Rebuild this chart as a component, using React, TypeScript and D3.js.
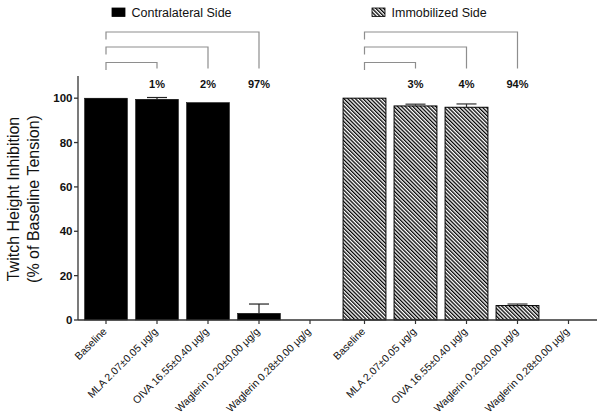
import React from "react";
import * as d3 from "d3";

const categories = [
  "Baseline",
  "MLA 2.07±0.05 μg/g",
  "OIVA 16.55±0.40 μg/g",
  "Waglerin 0.20±0.00 μg/g",
  "Waglerin 0.28±0.00 μg/g",
];
const contralateral = [100, 99.5, 98.0, 3.0, 0];
const contralateralErr = [0, 0.8, 0, 4.2, 0];
const immobilized = [100, 96.5, 95.9, 6.5, 0];
const immobilizedErr = [0, 0.8, 1.5, 0.7, 0];
const contralateralPct = ["", "1%", "2%", "97%", ""];
const immobilizedPct = ["", "3%", "4%", "94%", ""];
const yTicks = [0, 20, 40, 60, 80, 100];
const seriesNames = ["Contralateral Side", "Immobilized Side"];

const W = 603;
const H = 417;
const FONT = "Arial, 'Liberation Sans', Helvetica, sans-serif";
const AXIS = "#333";
const BRACKET = "#8e8e8e";

export default function App() {
  const y = d3.scaleLinear().domain([0, 110]).range([320, 76]);
  const xL = d3.scaleBand<string>().domain(categories).range([80.5, 335.5]).paddingInner(0.16).paddingOuter(0.08);
  const xR = d3.scaleBand<string>().domain(categories).range([339, 594]).paddingInner(0.16).paddingOuter(0.08);
  const groups = [
    { x: xL, vals: contralateral, errs: contralateralErr, pct: contralateralPct, fill: "#000", legendX: 112 },
    { x: xR, vals: immobilized, errs: immobilizedErr, pct: immobilizedPct, fill: "url(#hatch)", legendX: 372 },
  ];
  const bracketTops = [62.5, 47, 32];
  const bw = xL.bandwidth();

  return (
    <svg width={W} height={H} style={{ position: "absolute", left: 0, top: 0, background: "#fff" }} fontFamily={FONT}>
      <defs>
        <pattern id="hatch" patternUnits="userSpaceOnUse" width={2.7} height={2.7} patternTransform="rotate(-45)">
          <rect width={2.7} height={2.7} fill="#fff" />
          <line x1={0.65} y1={0} x2={0.65} y2={2.7} stroke="#000" strokeWidth={1.3} />
        </pattern>
      </defs>
      <rect width={W} height={H} fill="#fff" />

      {groups.map((g, gi) => (
        <g key={"leg" + gi}>
          <rect x={g.legendX} y={8} width={13} height={8.5} fill={g.fill} stroke="#000" strokeWidth={0.8} />
          <text x={g.legendX + 19.5} y={17} fontSize={12.5} fill="#111">{seriesNames[gi]}</text>
        </g>
      ))}

      {groups.map((g, gi) => {
        const c0 = (g.x(categories[0]) ?? 0) + bw / 2;
        return [1, 2, 3].map((k) => {
          const ck = (g.x(categories[k]) ?? 0) + bw / 2;
          const top = bracketTops[k - 1];
          return (
            <path
              key={`br${gi}-${k}`}
              d={`M${c0},${top + 7.5}V${top}H${ck}V68.5`}
              fill="none"
              stroke={BRACKET}
              strokeWidth={1.2}
            />
          );
        });
      })}

      {groups.map((g, gi) =>
        g.pct.map((p, i) =>
          p ? (
            <text key={`pct${gi}-${i}`} x={(g.x(categories[i]) ?? 0) + bw / 2} y={88} fontSize={11} fontWeight="bold" textAnchor="middle" fill="#111">
              {p}
            </text>
          ) : null
        )
      )}

      {groups.map((g, gi) =>
        g.vals.map((v, i) =>
          v > 0 ? (
            <rect
              key={`bar${gi}-${i}`}
              x={g.x(categories[i])}
              y={y(v)}
              width={bw}
              height={y(0) - y(v)}
              fill={g.fill}
              stroke="#000"
              strokeWidth={gi === 1 ? 1 : 0.5}
            />
          ) : null
        )
      )}

      {groups.map((g, gi) =>
        g.vals.map((v, i) => {
          const e = g.errs[i];
          if (!e) return null;
          const cx = (g.x(categories[i]) ?? 0) + bw / 2;
          return (
            <g key={`err${gi}-${i}`} stroke={gi === 0 ? "#222" : "#333"} strokeWidth={1.2}>
              <line x1={cx} x2={cx} y1={y(v)} y2={y(v + e)} />
              <line x1={cx - 10} x2={cx + 10} y1={y(v + e)} y2={y(v + e)} />
            </g>
          );
        })
      )}

      <line x1={78} x2={78} y1={y(110)} y2={y(0)} stroke={AXIS} strokeWidth={1.3} />
      {yTicks.map((t) => (
        <g key={"yt" + t}>
          <line x1={74} x2={78} y1={y(t)} y2={y(t)} stroke={AXIS} strokeWidth={1.3} />
          <text x={72.5} y={y(t) + 4} fontSize={11.5} fontWeight="bold" textAnchor="end" fill="#111">
            {t}
          </text>
        </g>
      ))}

      <line x1={78} x2={597} y1={y(0)} y2={y(0)} stroke={AXIS} strokeWidth={1.3} />
      {groups.map((g, gi) =>
        categories.map((c, i) => {
          const cx = (g.x(c) ?? 0) + bw / 2;
          return (
            <g key={`xt${gi}-${i}`}>
              <line x1={cx} x2={cx} y1={y(0)} y2={y(0) + 4} stroke={AXIS} strokeWidth={1.2} />
              <text
                transform={`translate(${cx + 1.5},${y(0) + 12}) rotate(-45)`}
                fontSize={10.5}
                textAnchor="end"
                fill="#111"
              >
                {c}
              </text>
            </g>
          );
        })
      )}

      <g transform={`translate(0,${(y(0) + y(110)) / 2 + 1}) rotate(-90)`}>
        <text x={0} y={18.5} fontSize={16} textAnchor="middle" fill="#111">Twitch Height Inhibition</text>
        <text x={0} y={38.5} fontSize={16} textAnchor="middle" fill="#111">(% of Baseline Tension)</text>
      </g>
    </svg>
  );
}
